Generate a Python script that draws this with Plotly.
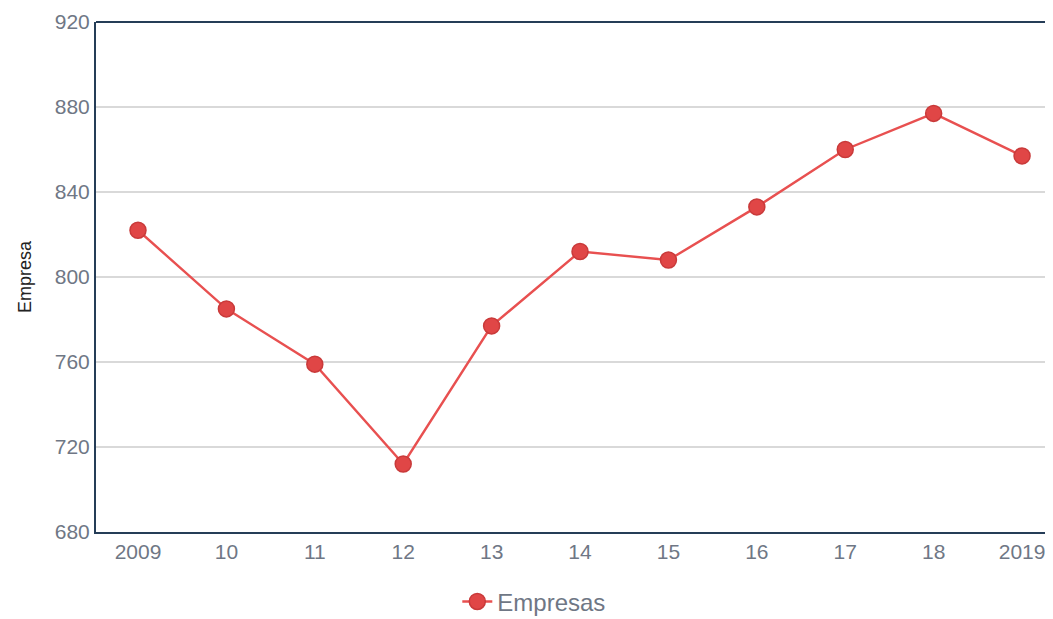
import plotly.graph_objects as go

years = ["2009", "10", "11", "12", "13", "14", "15", "16", "17", "18", "2019"]
empresas = [822, 785, 759, 712, 777, 812, 808, 833, 860, 877, 857]
y_ticks = [680, 720, 760, 800, 840, 880, 920]

x_idx = list(range(len(years)))

fig = go.Figure()
fig.add_trace(go.Scatter(
    x=x_idx, y=empresas, mode="lines+markers", name="Empresas",
    line=dict(color="#e85050", width=2.4),
    marker=dict(size=16, color="#e04646", line=dict(color="#c93a3a", width=1.5)),
))

fig.update_layout(
    width=1045, height=611,
    margin=dict(l=88, r=0, t=14, b=87),
    paper_bgcolor="white", plot_bgcolor="white",
    font=dict(family="Liberation Sans, Arial, sans-serif", size=21, color="#6f7785"),
    showlegend=True,
    legend=dict(orientation="h", x=0.458, xanchor="center",
                yref="container", y=0.028, yanchor="middle",
                font=dict(size=24, color="#6f7785")),
    xaxis=dict(
        range=[-0.475, 10.35], tickmode="array", tickvals=x_idx, ticktext=years,
        showgrid=False, showline=True, linecolor="#253d57", linewidth=2,
        ticks="", zeroline=False, mirror=False,
    ),
    yaxis=dict(
        range=[680, 920], tickmode="array", tickvals=y_ticks,
        showgrid=True, gridcolor="#d9d9d9", gridwidth=1.5,
        showline=True, linecolor="#253d57", linewidth=2,
        ticks="", zeroline=False,
        title=dict(text="Empresa", font=dict(size=18, color="#222222"), standoff=18),
    ),
)
fig.add_shape(type="line", xref="paper", yref="paper", x0=0, x1=1, y0=1, y1=1,
              line=dict(color="#253d57", width=2))

fig.write_html("out.html")
